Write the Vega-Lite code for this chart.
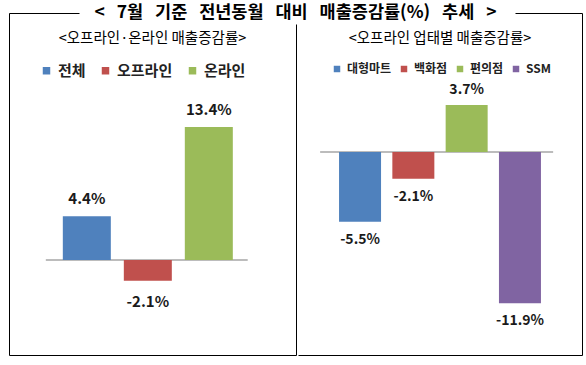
{
  "$schema": "https://vega.github.io/schema/vega-lite/v6.json",
  "background": "white",
  "padding": {"left": 8, "top": 3, "right": 6, "bottom": 10},
  "autosize": {"type": "pad"},
  "title": {
    "text": "< \u00a0\u00a07월 \u00a0\u00a0기준 \u00a0\u00a0전년동월 \u00a0\u00a0대비 \u00a0\u00a0매출증감률(%) \u00a0\u00a0추세 \u00a0\u00a0>",
    "font": "Noto Sans CJK KR",
    "fontSize": 17.5,
    "fontWeight": "bold",
    "color": "black",
    "baseline": "middle",
    "anchor": "middle",
    "frame": "bounds",
    "offset": -17.5
  },
  "spacing": 0,
  "resolve": {"scale": {"color": "independent"}, "legend": {"color": "independent"}},
  "hconcat": [
    {
      "width": 287,
      "height": 342,
      "view": {"stroke": "black", "strokeWidth": 1, "strokeDash": [70, 228, 960]},
      "title": {
        "text": "<오프라인·온라인 매출증감률>",
        "fontSize": 14.5,
        "fontWeight": "normal",
        "color": "black",
        "offset": -40,
        "baseline": "middle",
        "anchor": "middle",
        "frame": "group"
      },
      "data": {"values": [
        {"cat": "전체", "v": 4.4, "label": "4.4%"},
        {"cat": "오프라인", "v": -2.1, "label": "-2.1%"},
        {"cat": "온라인", "v": 13.4, "label": "13.4%"}
      ]},
      "encoding": {
        "x": {"field": "cat", "type": "nominal", "axis": null,
              "scale": {"domain": ["전체", "오프라인", "온라인"], "paddingInner": 0.213, "paddingOuter": 0.959, "align": 0.46}},
        "y": {"field": "v", "type": "quantitative", "axis": null,
              "scale": {"domain": [-9.57, 24.87], "nice": false, "zero": false}}
      },
      "layer": [
        {
          "data": {"values": [{"base": 0}]},
          "mark": {"type": "rule", "color": "#A6A6A6", "strokeWidth": 1.5},
          "encoding": {
            "x": {"datum": "전체", "bandPosition": -0.354},
            "x2": {"datum": "온라인", "bandPosition": 1.31},
            "y": {"field": "base", "type": "quantitative"}
          }
        },
        {
          "mark": {"type": "bar"},
          "encoding": {
            "color": {"field": "cat", "type": "nominal",
              "scale": {"domain": ["전체", "오프라인", "온라인"], "range": ["#4F81BD", "#C0504D", "#9BBB59"]},
              "legend": {"orient": "none", "legendX": 30, "legendY": 50, "direction": "horizontal", "title": null,
                "symbolType": "square", "symbolSize": 56, "labelFontSize": 15, "labelFontWeight": "bold",
                "labelColor": "#222222", "columnPadding": 12, "labelOffset": 4, "padding": 0}}
          }
        },
        {
          "transform": [{"filter": "datum.v >= 0"}],
          "mark": {"type": "text", "fontSize": 15, "fontWeight": "bold", "color": "#1a1a1a", "baseline": "middle", "dy": -17},
          "encoding": {"text": {"field": "label"}}
        },
        {
          "transform": [{"filter": "datum.v < 0"}],
          "mark": {"type": "text", "fontSize": 15, "fontWeight": "bold", "color": "#1a1a1a", "baseline": "middle", "dy": 21},
          "encoding": {"text": {"field": "label"}}
        }
      ]
    },
    {
      "width": 284,
      "height": 342,
      "view": {"stroke": "black", "strokeWidth": 1, "strokeDash": [0.01, 216.99, 693, 342]},
      "title": {
        "text": "<오프라인 업태별 매출증감률>",
        "fontSize": 14.5,
        "fontWeight": "normal",
        "color": "black",
        "offset": -40,
        "baseline": "middle",
        "anchor": "middle",
        "frame": "group"
      },
      "data": {"values": [
        {"cat": "대형마트", "v": -5.5, "label": "-5.5%"},
        {"cat": "백화점", "v": -2.1, "label": "-2.1%"},
        {"cat": "편의점", "v": 3.7, "label": "3.7%"},
        {"cat": "SSM", "v": -11.9, "label": "-11.9%"}
      ]},
      "encoding": {
        "x": {"field": "cat", "type": "nominal", "axis": null,
              "scale": {"domain": ["대형마트", "백화점", "편의점", "SSM"], "paddingInner": 0.212, "paddingOuter": 0.77, "align": 0.5}},
        "y": {"field": "v", "type": "quantitative", "axis": null,
              "scale": {"domain": [-15.98, 10.94], "nice": false, "zero": false}}
      },
      "layer": [
        {
          "data": {"values": [{"base": 0}]},
          "mark": {"type": "rule", "color": "#A6A6A6", "strokeWidth": 1.5},
          "encoding": {
            "x": {"datum": "대형마트", "bandPosition": -0.45},
            "x2": {"datum": "SSM", "bandPosition": 1.29},
            "y": {"field": "base", "type": "quantitative"}
          }
        },
        {
          "mark": {"type": "bar"},
          "encoding": {
            "color": {"field": "cat", "type": "nominal",
              "scale": {"domain": ["대형마트", "백화점", "편의점", "SSM"], "range": ["#4F81BD", "#C0504D", "#9BBB59", "#8064A2"]},
              "legend": {"orient": "none", "legendX": 33, "legendY": 50, "direction": "horizontal", "title": null,
                "symbolType": "square", "symbolSize": 42, "labelFontSize": 12, "labelFontWeight": "bold",
                "labelColor": "#222222", "columnPadding": 6, "labelOffset": 4, "padding": 0}}
          }
        },
        {
          "transform": [{"filter": "datum.v >= 0"}],
          "mark": {"type": "text", "fontSize": 14, "fontWeight": "bold", "color": "#1a1a1a", "baseline": "middle", "dy": -15},
          "encoding": {"text": {"field": "label"}}
        },
        {
          "transform": [{"filter": "datum.v < 0"}],
          "mark": {"type": "text", "fontSize": 14, "fontWeight": "bold", "color": "#1a1a1a", "baseline": "middle", "dy": 18},
          "encoding": {"text": {"field": "label"}}
        }
      ]
    }
  ],
  "config": {
    "font": "Noto Sans CJK KR",
    "view": {"stroke": "black", "strokeWidth": 1}
  }
}
